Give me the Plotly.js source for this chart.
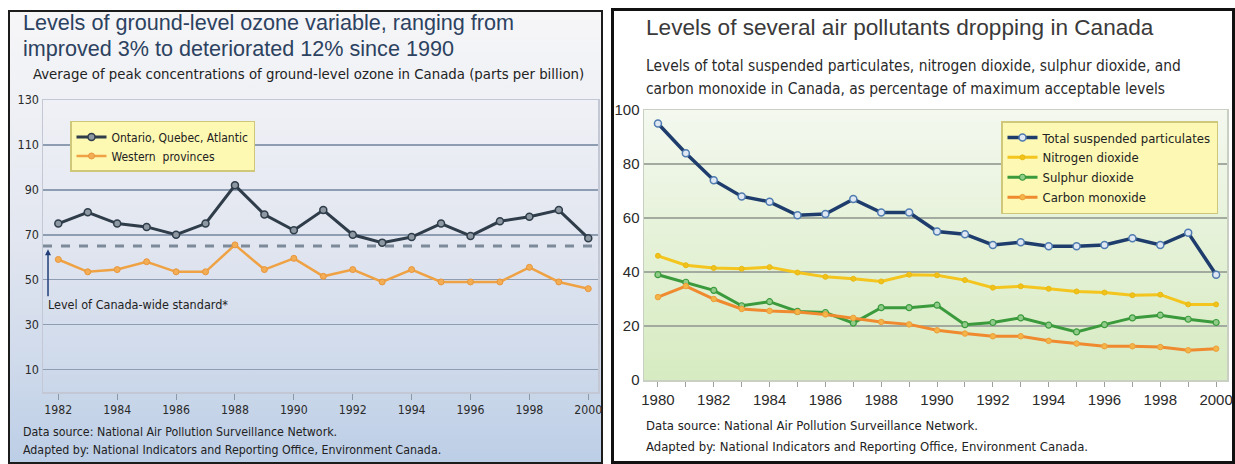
<!DOCTYPE html>
<html><head><meta charset="utf-8">
<script src="https://cdn.plot.ly/plotly-3.0.1.min.js"></script>
<style>
body{margin:0;background:#fff;width:1235px;height:464px;overflow:hidden;position:relative}
#lbg{position:absolute;left:8px;top:10px;width:591px;height:450px;border:2px solid #1c1c1c;background:linear-gradient(to bottom,#f6f6f8 0%,#eef0f5 22%,#e2e6f0 50%,#cfdaeb 78%,#bccee6 100%)}
#rbg{position:absolute;left:611px;top:8px;width:618px;height:450px;border:3px solid #111;background:#fff}
#rplotbg{position:absolute;left:644px;top:110px;width:583px;height:270px;background:linear-gradient(to bottom,#f4f8ef 0%,#e6f2d9 45%,#d6ebc1 100%)}
#left{position:absolute;left:0;top:0;width:606px;height:464px}
#right{position:absolute;left:606px;top:0;width:629px;height:464px}
</style></head>
<body>
<div id="lbg"></div><div id="rbg"></div><div id="rplotbg"></div>
<div id="left"></div><div id="right"></div>
<script>
// ---------- Data: left chart (ground-level ozone, ppb) ----------
const ozoneYears = [1982,1983,1984,1985,1986,1987,1988,1989,1990,1991,1992,1993,1994,1995,1996,1997,1998,1999,2000];
const ontarioQuebecAtlantic = [75,80,75,73.5,70,75,92,79,72,81,70,66.5,69,75,69.5,76,78,81,68.5];
const westernProvinces = [59,53.5,54.5,58,53.5,53.5,65.5,54.5,59.5,51.5,54.5,49,54.5,49,49,49,55.5,49,46];
const canadaWideStandard = 65;
const ozoneTickYears = [1982,1984,1986,1988,1990,1992,1994,1996,1998,2000];
const ozoneYTicks = [10,30,50,70,90,110,130];

// ---------- Data: right chart (% of max acceptable levels) ----------
const pollutantYears = [1980,1981,1982,1983,1984,1985,1986,1987,1988,1989,1990,1991,1992,1993,1994,1995,1996,1997,1998,1999,2000];
const totalSuspendedParticulates = [95,84,74,68,66,61,61.5,67,62,62,55,54,50,51,49.5,49.5,50,52.5,50,54.5,39];
const nitrogenDioxide = [46,42.5,41.5,41.2,41.8,39.8,38.2,37.5,36.5,39,38.8,37,34.2,34.7,33.8,32.8,32.4,31.4,31.6,28,28];
const sulphurDioxide = [39,36.2,33.2,27.5,29,25.4,25,21.1,26.8,26.8,27.7,20.5,21.3,23,20.3,17.8,20.5,23,24,22.5,21.3];
const carbonMonoxide = [30.7,34.8,30,26.3,25.6,25.2,24.3,23,21.5,20.6,18.4,17.2,16.2,16.2,14.5,13.5,12.5,12.5,12.2,11,11.6];
const pollutantTickYears = [1980,1982,1984,1986,1988,1990,1992,1994,1996,1998,2000];
const pollutantYTicks = [0,20,40,60,80,100];

const NARROW = '"Liberation Sans Narrow","DejaVu Sans Condensed","Arial Narrow",sans-serif';
const SANS = '"Liberation Sans",Arial,sans-serif';

// ---------- Left chart ----------
const L = {l:43, t:100, w:555, h:292.5};
const lx = x => (x - L.l) / L.w;
const ly = y => 1 - (y - L.t) / L.h;

const leftTraces = [
  {x: ozoneYears, y: ontarioQuebecAtlantic, name: 'Ontario, Quebec, Atlantic', type: 'scatter', mode: 'lines+markers',
   line: {color: '#2f3d4a', width: 3}, marker: {symbol: 'circle', size: 7, color: '#8d98a3', line: {color: '#2f3d4a', width: 1.5}}},
  {x: ozoneYears, y: westernProvinces, name: 'Western  provinces', type: 'scatter', mode: 'lines+markers',
   line: {color: '#efa244', width: 2.5}, marker: {symbol: 'circle', size: 6, color: '#f3ad55', line: {color: '#e8963a', width: 1}}}
];

const leftLayout = {
  width: 606, height: 464,
  margin: {l: L.l, r: 606 - L.l - L.w, t: L.t, b: 464 - L.t - L.h, pad: 0},
  paper_bgcolor: 'rgba(0,0,0,0)', plot_bgcolor: 'rgba(0,0,0,0)',
  showlegend: true,
  legend: {x: lx(70), y: ly(121), xanchor: 'left', yanchor: 'top', bgcolor: '#fdf8b2', bordercolor: '#cfc77a', borderwidth: 1.5,
           font: {family: NARROW, size: 12, color: '#222'}, itemwidth: 30, tracegroupgap: 0},
  xaxis: {range: [1981.48, 2000.33], tickvals: ozoneTickYears, ticks: 'outside', ticklen: 6, tickcolor: '#8a98aa', tickwidth: 1,
          showgrid: false, zeroline: false, showline: true, mirror: true, linecolor: '#c3c8d4', linewidth: 1.5,
          tickfont: {family: NARROW, size: 12.2, color: '#2a2a2a'}},
  yaxis: {range: [0, 130], tickvals: ozoneYTicks, ticks: '', showgrid: true, gridcolor: '#8f9db2', gridwidth: 1.5, zeroline: false,
          showline: true, mirror: true, linecolor: '#c3c8d4', linewidth: 1.5,
          tickfont: {family: NARROW, size: 12.5, color: '#2a2a2a'}},
  shapes: [
    {type: 'line', xref: 'paper', x0: 0, x1: 1, yref: 'y', y0: canadaWideStandard, y1: canadaWideStandard,
     line: {color: '#7d8a9a', width: 3, dash: 'dash'}, layer: 'below'}
  ],
  annotations: [
    {xref: 'paper', yref: 'paper', x: lx(21), y: ly(22), xanchor: 'left', yanchor: 'middle', showarrow: false,
     text: 'Levels of ground-level ozone variable, ranging from', font: {family: SANS, size: 21.6, color: '#2c4260'}},
    {xref: 'paper', yref: 'paper', x: lx(21), y: ly(48), xanchor: 'left', yanchor: 'middle', showarrow: false,
     text: 'improved 3% to deteriorated 12% since 1990', font: {family: SANS, size: 21.6, color: '#2c4260'}},
    {xref: 'paper', yref: 'paper', x: lx(31), y: ly(73), xanchor: 'left', yanchor: 'middle', showarrow: false,
     text: 'Average of peak concentrations of ground-level ozone in Canada (parts per billion)', font: {family: NARROW, size: 14.8, color: '#222'}},
    {xref: 'paper', yref: 'paper', x: lx(46), y: ly(305), xanchor: 'left', yanchor: 'middle', showarrow: false,
     text: 'Level of Canada-wide standard*', font: {family: NARROW, size: 12.5, color: '#222'}},
    {xref: 'x', yref: 'y', x: 1981.65, y: canadaWideStandard - 1.5, axref: 'x', ayref: 'y', ax: 1981.65, ay: canadaWideStandard - 23,
     text: '', showarrow: true, arrowhead: 2, arrowsize: 0.8, arrowwidth: 1.5, arrowcolor: '#23407a'},
    {xref: 'paper', yref: 'paper', x: lx(21), y: ly(433), xanchor: 'left', yanchor: 'middle', showarrow: false,
     text: 'Data source: National Air Pollution Surveillance Network.', font: {family: NARROW, size: 12.3, color: '#222'}},
    {xref: 'paper', yref: 'paper', x: lx(21), y: ly(451), xanchor: 'left', yanchor: 'middle', showarrow: false,
     text: 'Adapted by: National Indicators and Reporting Office, Environment Canada.', font: {family: NARROW, size: 12.3, color: '#222'}}
  ]
};
Plotly.newPlot('left', leftTraces, leftLayout, {displayModeBar: false, staticPlot: true});

// ---------- Right chart ----------
const R = {l: 38, t: 110, w: 583, h: 270};   // relative to the right div (page x offset 606)
const RX0 = 606;
const rx = x => (x - RX0 - R.l) / R.w;
const ry = y => 1 - (y - R.t) / R.h;

const rightTraces = [
  {x: pollutantYears, y: totalSuspendedParticulates, name: 'Total suspended particulates', type: 'scatter', mode: 'lines+markers',
   line: {color: '#1e3d6d', width: 3.5}, marker: {symbol: 'circle', size: 7, color: '#dfe8f2', line: {color: '#4f7bb0', width: 1.5}}},
  {x: pollutantYears, y: nitrogenDioxide, name: 'Nitrogen dioxide', type: 'scatter', mode: 'lines+markers',
   line: {color: '#f3c51e', width: 3}, marker: {symbol: 'circle', size: 5, color: '#f1c21a', line: {color: '#e9b914', width: 1}}},
  {x: pollutantYears, y: sulphurDioxide, name: 'Sulphur dioxide', type: 'scatter', mode: 'lines+markers',
   line: {color: '#3a9a3c', width: 3}, marker: {symbol: 'circle', size: 6, color: '#92cc8a', line: {color: '#3a9a3c', width: 1.2}}},
  {x: pollutantYears, y: carbonMonoxide, name: 'Carbon monoxide', type: 'scatter', mode: 'lines+markers',
   line: {color: '#ef8a2f', width: 3}, marker: {symbol: 'circle', size: 5.5, color: '#f3b448', line: {color: '#ee9d38', width: 1}}}
];

const rightLayout = {
  width: 629, height: 464,
  margin: {l: R.l, r: 629 - R.l - R.w, t: R.t, b: 464 - R.t - R.h, pad: 0},
  paper_bgcolor: 'rgba(0,0,0,0)', plot_bgcolor: 'rgba(0,0,0,0)',
  showlegend: true,
  legend: {x: rx(1001), y: ry(121), xanchor: 'left', yanchor: 'top', bgcolor: '#fdf9b4', bordercolor: '#cfc77a', borderwidth: 1.5,
           font: {family: NARROW, size: 13, color: '#222'}, itemwidth: 30, tracegroupgap: 0},
  xaxis: {range: [1979.5, 2000.39], tickvals: pollutantTickYears, ticks: 'outside', ticklen: 5, tickcolor: '#9aa29a', tickwidth: 1,
          minor: {dtick: 1, tick0: 1980, ticks: 'outside', ticklen: 5, tickcolor: '#9aa29a', showgrid: false},
          showgrid: false, zeroline: false, showline: true, mirror: true, linecolor: '#c9cfc2', linewidth: 1.5,
          tickfont: {family: SANS, size: 15, color: '#2a2a2a'}},
  yaxis: {range: [0, 100], tickvals: pollutantYTicks, ticks: '', showgrid: true, gridcolor: '#a3aaa0', gridwidth: 1.2, zeroline: false,
          showline: true, mirror: true, linecolor: '#c9cfc2', linewidth: 1.5,
          tickfont: {family: SANS, size: 15, color: '#2a2a2a'}},
  annotations: [
    {xref: 'paper', yref: 'paper', x: rx(644), y: ry(28), xanchor: 'left', yanchor: 'middle', showarrow: false,
     text: 'Levels of several air pollutants dropping in Canada', font: {family: SANS, size: 22.6, color: '#3a3a3a'}},
    {xref: 'paper', yref: 'paper', x: rx(644), y: ry(66), xanchor: 'left', yanchor: 'middle', showarrow: false,
     text: 'Levels of total suspended particulates, nitrogen dioxide, sulphur dioxide, and', font: {family: NARROW, size: 15.4, color: '#2a2a2a'}},
    {xref: 'paper', yref: 'paper', x: rx(644), y: ry(89), xanchor: 'left', yanchor: 'middle', showarrow: false,
     text: 'carbon monoxide in Canada, as percentage of maximum acceptable levels', font: {family: NARROW, size: 15.4, color: '#2a2a2a'}},
    {xref: 'paper', yref: 'paper', x: rx(644), y: ry(425), xanchor: 'left', yanchor: 'middle', showarrow: false,
     text: 'Data source: National Air Pollution Surveillance Network.', font: {family: NARROW, size: 13, color: '#222'}},
    {xref: 'paper', yref: 'paper', x: rx(644), y: ry(446), xanchor: 'left', yanchor: 'middle', showarrow: false,
     text: 'Adapted by: National Indicators and Reporting Office, Environment Canada.', font: {family: NARROW, size: 13, color: '#222'}}
  ]
};
Plotly.newPlot('right', rightTraces, rightLayout, {displayModeBar: false, staticPlot: true});
</script>
</body></html>
